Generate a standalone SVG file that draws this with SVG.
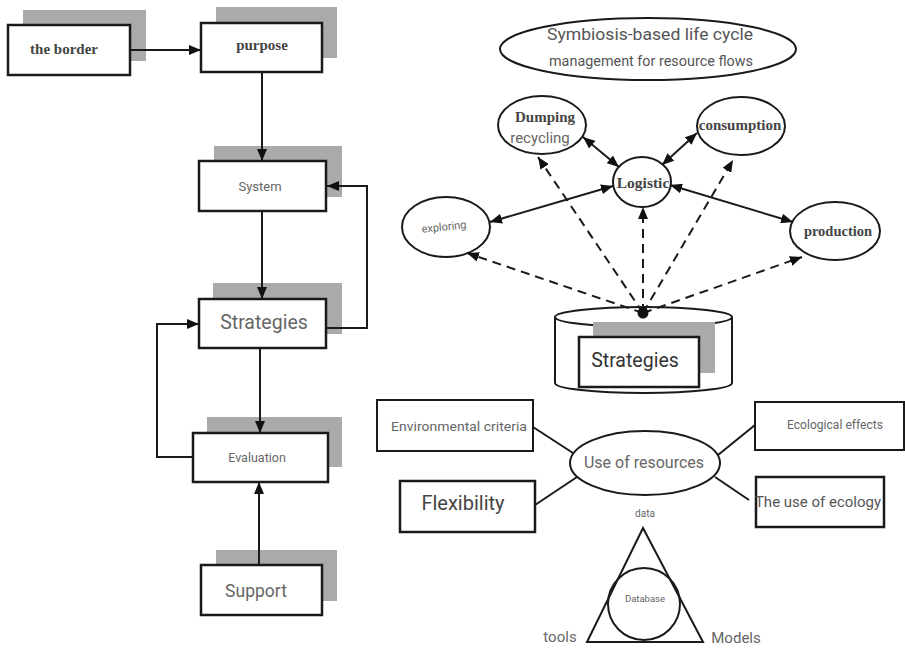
<svg xmlns="http://www.w3.org/2000/svg" width="905" height="650" viewBox="0 0 905 650">
<defs>
<marker id="ah" viewBox="0 0 12 10" refX="12" refY="5" markerWidth="12" markerHeight="10" markerUnits="userSpaceOnUse" orient="auto-start-reverse">
<path d="M0,0 L12,5 L0,10 z" fill="#111"/>
</marker>
<style>
.box{fill:#fff;stroke:#1a1a1a;stroke-width:2.5}
.sh{fill:#aaa}
.el{fill:#fff;stroke:#1a1a1a;stroke-width:2}
.ln{fill:none;stroke:#1a1a1a;stroke-width:2}
.dash{fill:none;stroke:#1a1a1a;stroke-width:2;stroke-dasharray:9,6}
.serif{font-family:"Liberation Serif",serif;font-weight:bold;fill:#444}
.sans{font-family:Roboto,"Liberation Sans",sans-serif;fill:#666}
text{text-anchor:middle;dominant-baseline:central}
</style>
</defs>
<rect width="905" height="650" fill="#fff"/>

<g id="n-border">
<rect class="sh" x="23" y="10" width="123" height="51"/>
<rect class="box" x="8" y="25" width="122" height="50"/>
<text class="serif" x="64" y="49" font-size="15">the border</text>
</g>
<g id="n-purpose">
<rect class="sh" x="216" y="7" width="121" height="51"/>
<rect class="box" x="201" y="23" width="121" height="49"/>
<text class="serif" x="262" y="45" font-size="15">purpose</text>
</g>
<g id="n-system">
<rect class="sh" x="214" y="146" width="128" height="51"/>
<rect class="box" x="199" y="161" width="127" height="50"/>
<text class="sans" x="260" y="186" font-size="13">System</text>
</g>
<g id="n-strategies">
<rect class="sh" x="213" y="283" width="129" height="51"/>
<rect class="box" x="199" y="299" width="127" height="49"/>
<text class="sans" x="264" y="322" font-size="19.5">Strategies</text>
</g>
<g id="n-evaluation">
<rect class="sh" x="207" y="417" width="135" height="50"/>
<rect class="box" x="193" y="433" width="135" height="49"/>
<text class="sans" x="257" y="457" font-size="12.5">Evaluation</text>
</g>
<g id="n-support">
<rect class="sh" x="216" y="550" width="121" height="51"/>
<rect class="box" x="201" y="565" width="121" height="50"/>
<text class="sans" x="256" y="591" font-size="17.5">Support</text>
</g>

<g id="n-title">
<ellipse class="el" cx="648" cy="49" rx="148" ry="31"/>
<text class="sans" x="650" y="34" font-size="17" textLength="206" lengthAdjust="spacingAndGlyphs" style="fill:#555">Symbiosis-based life cycle</text>
<text class="sans" x="651" y="61" font-size="14" textLength="204" lengthAdjust="spacingAndGlyphs" style="fill:#555">management for resource flows</text>
</g>
<g id="n-dumping">
<ellipse class="el" cx="542" cy="125" rx="44" ry="29"/>
<text class="serif" x="545" y="117" font-size="15">Dumping</text>
<text class="sans" x="540" y="138" font-size="15">recycling</text>
</g>
<g id="n-consumption">
<ellipse class="el" cx="741" cy="126" rx="44" ry="29"/>
<text class="serif" x="740" y="125" font-size="15">consumption</text>
</g>
<g id="n-logistic">
<ellipse class="el" cx="642" cy="182" rx="29" ry="25"/>
<text class="serif" x="643" y="182" font-size="15.5">Logistic</text>
</g>
<g id="n-exploring">
<ellipse class="el" cx="446" cy="227" rx="44" ry="30"/>
<text class="sans" x="444" y="227" font-size="11" transform="rotate(-6 444 227)">exploring</text>
</g>
<g id="n-production">
<ellipse class="el" cx="835" cy="231" rx="45" ry="29"/>
<text class="serif" x="838" y="231" font-size="14.5">production</text>
</g>
<g id="n-cylinder">
<path class="el" d="M555,317 V383 A88.5,10 0 0 0 732,383 V317"/>
<ellipse class="el" cx="643.5" cy="317" rx="88.5" ry="10"/>
<rect class="sh" x="593" y="322" width="122" height="51"/>
<rect class="box" x="579" y="337" width="120" height="50"/>
<text x="635" y="360" font-size="19.5" style="font-family:Roboto,'Liberation Sans',sans-serif;fill:#333">Strategies</text>
</g>

<g id="n-use">
<ellipse class="el" cx="645" cy="463" rx="75" ry="32"/>
<text class="sans" x="644" y="462" font-size="16">Use of resources</text>
</g>
<g id="n-env">
<rect class="box" x="377" y="400" width="156" height="51" style="stroke-width:2"/>
<text class="sans" x="459" y="426" font-size="13" textLength="136" lengthAdjust="spacingAndGlyphs">Environmental criteria</text>
</g>
<g id="n-flex">
<rect class="box" x="400" y="481" width="135" height="51"/>
<text x="463" y="503" font-size="20" style="font-family:Roboto,'Liberation Sans',sans-serif;fill:#444">Flexibility</text>
</g>
<g id="n-ecoeffects">
<rect class="box" x="755" y="402" width="149" height="48" style="stroke-width:2"/>
<text class="sans" x="835" y="424" font-size="12.5" textLength="96" lengthAdjust="spacingAndGlyphs">Ecological effects</text>
</g>
<g id="n-useeco">
<rect class="box" x="756" y="477" width="128" height="50"/>
<text class="sans" x="818" y="502" font-size="15" style="fill:#555">The use of ecology</text>
</g>

<g id="n-triangle">
<polygon class="el" points="643,528 587,642 703,642" style="fill:none"/>
<circle cx="644" cy="604" r="36" fill="none" stroke="#1a1a1a" stroke-width="2"/>
<text class="sans" x="645" y="598" font-size="9.5">Database</text>
<text class="sans" x="645" y="513" font-size="10">data</text>
<text class="sans" x="560" y="637" font-size="15">tools</text>
<text class="sans" x="736" y="638" font-size="15">Models</text>
</g>

<g id="connectors">
<path class="ln" d="M130,50 H201" marker-end="url(#ah)"/>
<path class="ln" d="M262,72 V161" marker-end="url(#ah)"/>
<path class="ln" d="M262,211 V299" marker-end="url(#ah)"/>
<path class="ln" d="M327,328 H367 V186 H327" marker-end="url(#ah)"/>
<path class="ln" d="M260,348 V433" marker-end="url(#ah)"/>
<path class="ln" d="M193,457 H157 V324 H199" marker-end="url(#ah)"/>
<path class="ln" d="M259,565 V482" marker-end="url(#ah)"/>

<path class="ln" d="M583,137 L619,167" marker-start="url(#ah)" marker-end="url(#ah)"/>
<path class="ln" d="M697,133 L662,165" marker-start="url(#ah)" marker-end="url(#ah)"/>
<path class="ln" d="M490,222 L613,186" marker-start="url(#ah)" marker-end="url(#ah)"/>
<path class="ln" d="M670,185 L793,222" marker-start="url(#ah)" marker-end="url(#ah)"/>

<path class="dash" d="M643,313 L538,157" marker-end="url(#ah)"/>
<path class="dash" d="M643,313 L733,160" marker-end="url(#ah)"/>
<path class="dash" d="M643,313 L643,207" marker-end="url(#ah)"/>
<path class="dash" d="M643,313 L467,253" marker-end="url(#ah)"/>
<path class="dash" d="M643,313 L802,257" marker-end="url(#ah)"/>
<circle cx="643" cy="313" r="5.5" fill="#111"/>

<path class="ln" d="M533,427 L573,453"/>
<path class="ln" d="M535,505 L577,477"/>
<path class="ln" d="M755,425 L718,455"/>
<path class="ln" d="M715,477 L749,500"/>
</g>
</svg>
